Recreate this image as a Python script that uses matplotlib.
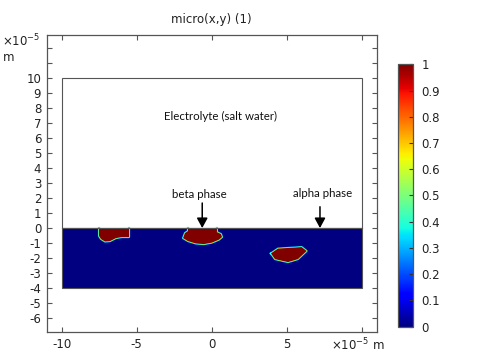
import numpy as np
import matplotlib
matplotlib.use('Agg')
import matplotlib.pyplot as plt
from matplotlib.patches import Polygon, Rectangle

plt.rcParams['font.family'] = ['DejaVu Sans']
plt.rcParams['font.size'] = 8.5

# geometry (units of 1e-5 m)
electrolyte = (-10, 0, 20, 10)   # x, y, width, height
metal = (-10, -4, 20, 4)

# phase blobs (micro = 1 inside)
blob1_x = [-7.51, -7.51, -7.38, -7.11, -6.78, -6.38, -5.98, -5.51, -5.51]
blob1_y = [0, -0.53, -0.73, -0.9, -0.87, -0.67, -0.6, -0.6, 0]
blob2_x = [-1.58, -1.58, -1.78, -1.91, -1.58, -1.05, -0.51, 0.02, 0.49, 0.69, 0.62, 0.35, 0.35]
blob2_y = [0, -0.2, -0.33, -0.67, -0.87, -1.03, -1.07, -0.97, -0.77, -0.6, -0.4, -0.27, 0]
blob3_x = [3.95, 4.42, 6.0, 6.33, 5.75, 5.09, 4.22, 3.95]
blob3_y = [-1.69, -1.37, -1.27, -1.53, -2.07, -2.27, -2.07, -1.69]

xticks = [-10, -5, 0, 5, 10]
xlabels = ['-10', '-5', '0', '5', '']
yticks = list(range(-6, 13))
ylabels = [str(v) if v <= 10 else '' for v in yticks]
cticks = [0, 0.1, 0.2, 0.3, 0.4, 0.5, 0.6, 0.7, 0.8, 0.9, 1]
clabels = ['0', '0.1', '0.2', '0.3', '0.4', '0.5', '0.6', '0.7', '0.8', '0.9', '1']

cmap = plt.get_cmap('jet')
edge = '#555555'

fig = plt.figure(figsize=(4.92, 3.64), dpi=100)
ax = fig.add_axes([0.0949, 0.0879, 0.6707, 0.8159])

ax.add_patch(Rectangle(electrolyte[:2], electrolyte[2], electrolyte[3],
                       facecolor='white', edgecolor=edge, lw=0.8, zorder=1))
ax.add_patch(Rectangle(metal[:2], metal[2], metal[3],
                       facecolor=cmap(0.0), edgecolor=edge, lw=0.8, zorder=2))
for bx, by in [(blob1_x, blob1_y), (blob2_x, blob2_y), (blob3_x, blob3_y)]:
    # diffuse interface: outer cyan halo, inner yellow rim
    ax.plot(bx, by, color=cmap(0.33), lw=1.6, solid_joinstyle='round', zorder=3)
    ax.plot(bx, by, color=cmap(0.62), lw=0.7, solid_joinstyle='round', zorder=4)
    ax.add_patch(Polygon(np.column_stack([bx, by]), closed=True,
                         facecolor=cmap(1.0), edgecolor='none', zorder=5))
ax.plot([-10, 10], [0, 0], color=edge, lw=0.8, zorder=6)

ann = dict(family=['Lato', 'DejaVu Sans'], fontsize=8.3, ha='center', va='center',
           color='#111111')
ax.text(0.62, 7.47, 'Electrolyte (salt water)', **ann)
ax.text(-0.85, 2.27, 'beta phase', **ann)
ax.text(7.39, 2.33, 'alpha phase', **ann)
arrow = dict(arrowstyle='-|>,head_length=0.7,head_width=0.38', color='black', lw=1.1,
             shrinkA=0, shrinkB=0)
ax.annotate('', xy=(-0.63, 0), xytext=(-0.63, 1.67), arrowprops=arrow, zorder=7)
ax.annotate('', xy=(7.22, 0), xytext=(7.22, 1.42), arrowprops=arrow, zorder=7)

ax.set_xlim(-11, 11)
ax.set_ylim(-6.93, 12.87)
ax.set_xticks(xticks)
ax.set_xticklabels(xlabels)
ax.set_yticks(yticks)
ax.set_yticklabels(ylabels)
ax.tick_params(direction='in', length=3.6, width=0.8, color=edge, top=True, right=True,
               pad=4, labelsize=8.5, labelcolor='#222222')
for s in ax.spines.values():
    s.set_color(edge)
    s.set_linewidth(0.9)
ax.set_title('micro(x,y) (1)', fontsize=8.5, color='#222222', pad=9)

fig.text(0.004, 0.888, r'$\times$10$^{-5}$', fontsize=8.5, va='center', color='#222222')
fig.text(0.006, 0.843, 'm', fontsize=8.5, va='center', color='#222222')
fig.text(0.672, 0.053, r'$\times$10$^{-5}$ m', fontsize=8.5, va='center', color='#222222')

cax = fig.add_axes([0.809, 0.1025, 0.0305, 0.7209])
sm = plt.cm.ScalarMappable(cmap=cmap, norm=plt.Normalize(0, 1))
cb = fig.colorbar(sm, cax=cax, ticks=cticks)
cb.set_ticklabels(clabels)
cb.outline.set_edgecolor(edge)
cb.outline.set_linewidth(0.9)
cax.tick_params(direction='in', length=3, width=0.8, color='#333333', pad=6,
                labelsize=8.5, labelcolor='#222222')

fig.savefig('out.png', dpi=100)
